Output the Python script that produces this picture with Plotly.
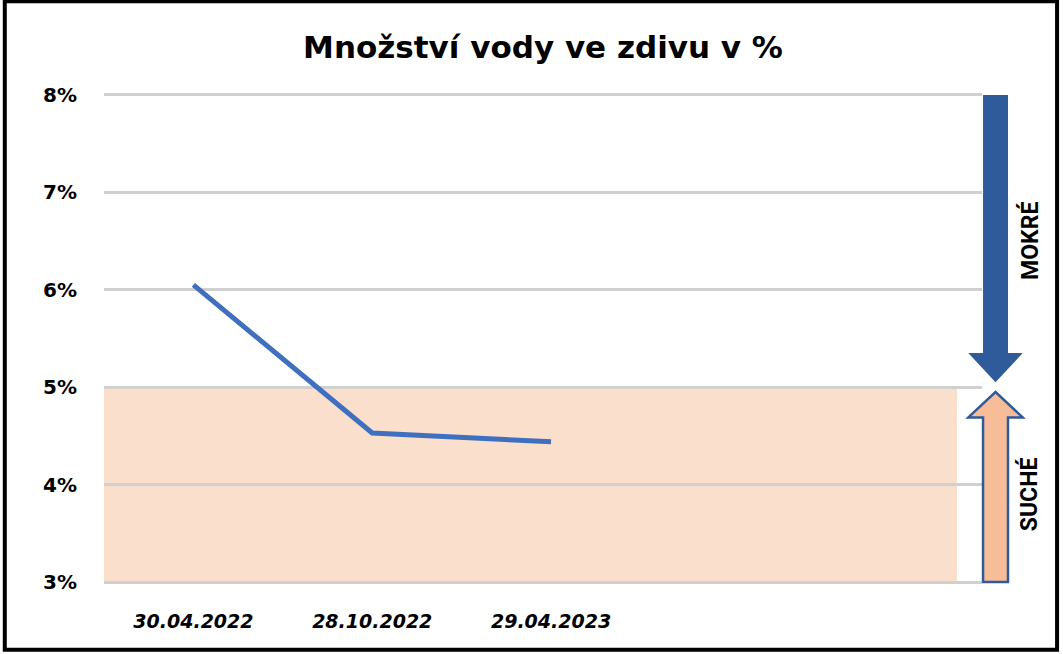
import plotly.graph_objects as go

# data
dates = ["30.04.2022", "28.10.2022", "29.04.2023"]
moisture = [6.05, 4.53, 4.44]
y_ticks = [3, 4, 5, 6, 7, 8]
y_tick_labels = ["3%", "4%", "5%", "6%", "7%", "8%"]
dry_band = [3, 5]      # "SUCHÉ" zone (%)
wet_band = [5, 8]      # "MOKRÉ" zone (%)

FONT = "DejaVu Sans, sans-serif"
SIDE_FONT = "Roboto, sans-serif"
DARK_BLUE = "#2F5B9A"
LINE_BLUE = "#3F6FBF"
PEACH = "#FADFCC"
PEACH_ARROW = "#F6BD98"

fig = go.Figure()

fig.add_trace(
    go.Scatter(
        x=dates,
        y=moisture,
        mode="lines",
        line=dict(color=LINE_BLUE, width=5),
        hovertemplate="%{x}<br>%{y:.2f}%<extra></extra>",
        showlegend=False,
    )
)

# dry zone shading
fig.add_shape(
    type="rect", xref="x", yref="y",
    x0=-0.5, x1=4.27, y0=dry_band[0], y1=dry_band[1],
    fillcolor=PEACH, line=dict(width=0), layer="below",
)

# arrows at the right side (x in paper units, y in data units)
cx, sw, hw = 1.0154, 0.0142, 0.031
down_head = wet_band[0] + 0.35
down_tip = wet_band[0] + 0.05
fig.add_shape(
    type="path", xref="paper", yref="y",
    path=(f"M {cx-sw} {wet_band[1]} L {cx+sw} {wet_band[1]} L {cx+sw} {down_head} "
          f"L {cx+hw} {down_head} L {cx} {down_tip} L {cx-hw} {down_head} "
          f"L {cx-sw} {down_head} Z"),
    fillcolor=DARK_BLUE, line=dict(width=0),
)
up_head = dry_band[1] - 0.31
up_tip = dry_band[1] - 0.05
fig.add_shape(
    type="path", xref="paper", yref="y",
    path=(f"M {cx-sw} {dry_band[0]} L {cx+sw} {dry_band[0]} L {cx+sw} {up_head} "
          f"L {cx+hw} {up_head} L {cx} {up_tip} L {cx-hw} {up_head} "
          f"L {cx-sw} {up_head} Z"),
    fillcolor=PEACH_ARROW, line=dict(color=DARK_BLUE, width=2.5),
)

fig.add_annotation(
    text="<b>MOKRÉ</b>", xref="paper", yref="y", x=1.0545, y=6.5,
    xanchor="center", yanchor="middle",
    textangle=-90, showarrow=False, font=dict(family=SIDE_FONT, size=23, color="black"),
)
fig.add_annotation(
    text="<b>SUCHÉ</b>", xref="paper", yref="y", x=1.0545, y=3.9,
    xanchor="center", yanchor="middle",
    textangle=-90, showarrow=False, font=dict(family=SIDE_FONT, size=23, color="black"),
)

# outer frame
fig.add_shape(
    type="rect", xref="paper", yref="paper",
    x0=-0.113, x1=1.0855, y0=-0.134, y1=1.187,
    line=dict(color="black", width=4), fillcolor="rgba(0,0,0,0)",
)

fig.update_layout(
    width=1063,
    height=654,
    paper_bgcolor="white",
    plot_bgcolor="white",
    title=dict(
        text="<b>Množství vody ve zdivu v %</b>",
        font=dict(family=FONT, size=31, color="black"),
        x=0.5, xanchor="center", xref="paper",
        y=0.928, yanchor="middle",
    ),
    xaxis=dict(
        type="category",
        range=[-0.5, 4.41],
        showgrid=False,
        zeroline=False,
        showline=False,
        ticks="outside", ticklen=20, tickcolor="rgba(0,0,0,0)",
        tickfont=dict(family=FONT, size=19, color="black"),
        ticktext=[f"<b><i>{d}</i></b>" for d in dates],
        tickvals=dates,
        fixedrange=True,
    ),
    yaxis=dict(
        range=[2.98, 8.02],
        tickvals=y_ticks,
        ticktext=[f"<b>{t}</b>" for t in y_tick_labels],
        tickfont=dict(family=FONT, size=20, color="black"),
        showgrid=True,
        gridcolor="#D0D0D0",
        gridwidth=2.5,
        zeroline=False,
        showline=False,
        ticks="outside", ticklen=22, tickcolor="rgba(0,0,0,0)",
        fixedrange=True,
    ),
    margin=dict(l=104, r=81, t=93, b=70),
    showlegend=False,
)

fig.write_html(
    "out.html",
    config={"displayModeBar": False},
    post_script="document.body.style.margin='0';",
)
